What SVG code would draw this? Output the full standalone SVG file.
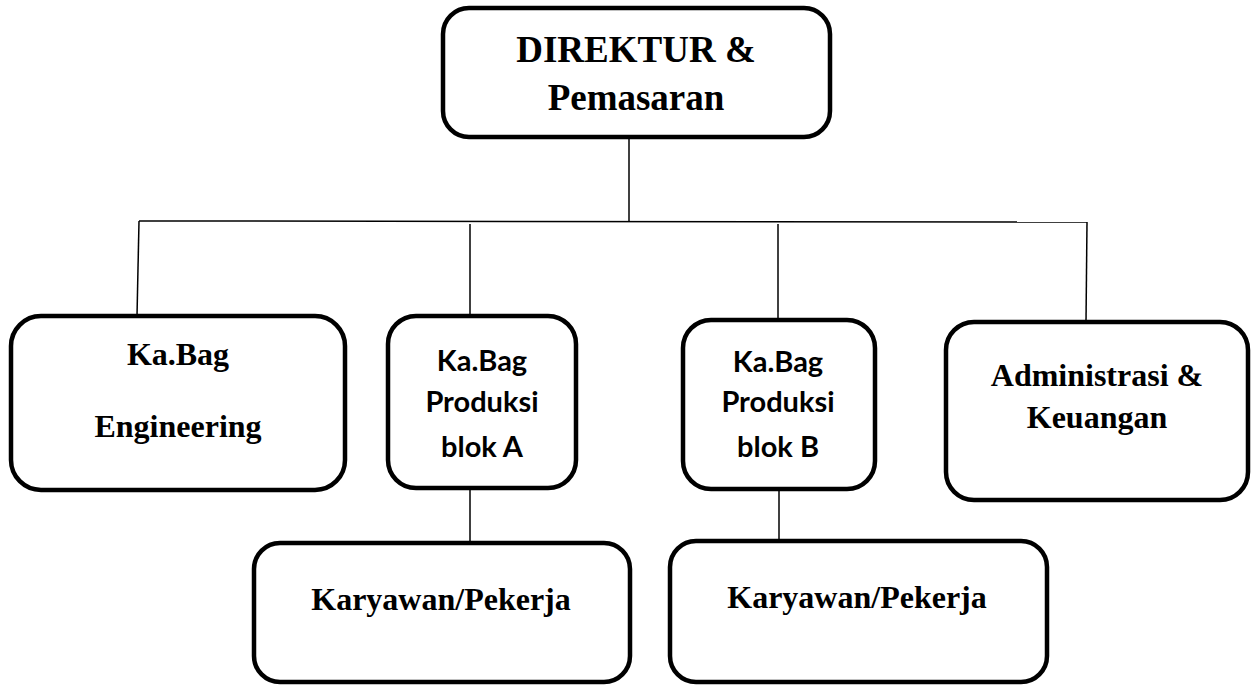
<svg xmlns="http://www.w3.org/2000/svg" width="1257" height="685" viewBox="0 0 1257 685">
<style>
.box{fill:#fff;stroke:#000;stroke-width:4.5}
.ln{fill:none;stroke:#000;stroke-width:1.5}
.t{font-family:"Liberation Serif","Times New Roman",serif;font-weight:bold;font-size:32px;fill:#000;text-anchor:middle}
.big{font-size:37px}
.c{font-family:Lato,"Open Sans",sans-serif;font-weight:bold;font-size:29px;fill:#000;text-anchor:middle}
</style>
<rect width="1257" height="685" fill="#fff"/>
<g id="connectors">
<line class="ln" x1="629" y1="137" x2="629" y2="221"/>
<line class="ln" x1="139" y1="221" x2="1087" y2="222"/>
<line class="ln" x1="139" y1="221" x2="137" y2="316"/>
<line class="ln" x1="470" y1="224" x2="470" y2="316"/>
<line class="ln" x1="778" y1="224" x2="778" y2="319"/>
<line class="ln" x1="1087" y1="222" x2="1086" y2="322"/>
<line class="ln" x1="470" y1="488" x2="470" y2="543"/>
<line class="ln" x1="779" y1="489" x2="779" y2="541"/>
</g>
<g id="direktur">
<rect class="box" x="443" y="8" width="387" height="129" rx="26"/>
<text class="t big" x="636" y="62">DIREKTUR &amp;</text>
<text class="t big" x="636" y="110">Pemasaran</text>
</g>
<g id="engineering">
<rect class="box" x="11" y="316" width="334" height="174" rx="30"/>
<text class="t" x="178" y="365">Ka.Bag</text>
<text class="t" x="178" y="437">Engineering</text>
</g>
<g id="produksi-a">
<rect class="box" x="388" y="316" width="188" height="172" rx="28"/>
<text class="c" x="482" y="371">Ka.Bag</text>
<text class="c" x="482" y="412">Produksi</text>
<text class="c" x="482" y="457">blok A</text>
</g>
<g id="produksi-b">
<rect class="box" x="683" y="320" width="192" height="169" rx="28"/>
<text class="c" x="778" y="372">Ka.Bag</text>
<text class="c" x="778" y="412">Produksi</text>
<text class="c" x="778" y="457">blok B</text>
</g>
<g id="administrasi">
<rect class="box" x="946" y="322" width="302" height="178" rx="28"/>
<text class="t" x="1097" y="386">Administrasi &amp;</text>
<text class="t" x="1097" y="428">Keuangan</text>
</g>
<g id="karyawan-a">
<rect class="box" x="254" y="543" width="376" height="139" rx="26"/>
<text class="t" x="441" y="610">Karyawan/Pekerja</text>
</g>
<g id="karyawan-b">
<rect class="box" x="670" y="541" width="377" height="141" rx="26"/>
<text class="t" x="857" y="608">Karyawan/Pekerja</text>
</g>
</svg>
